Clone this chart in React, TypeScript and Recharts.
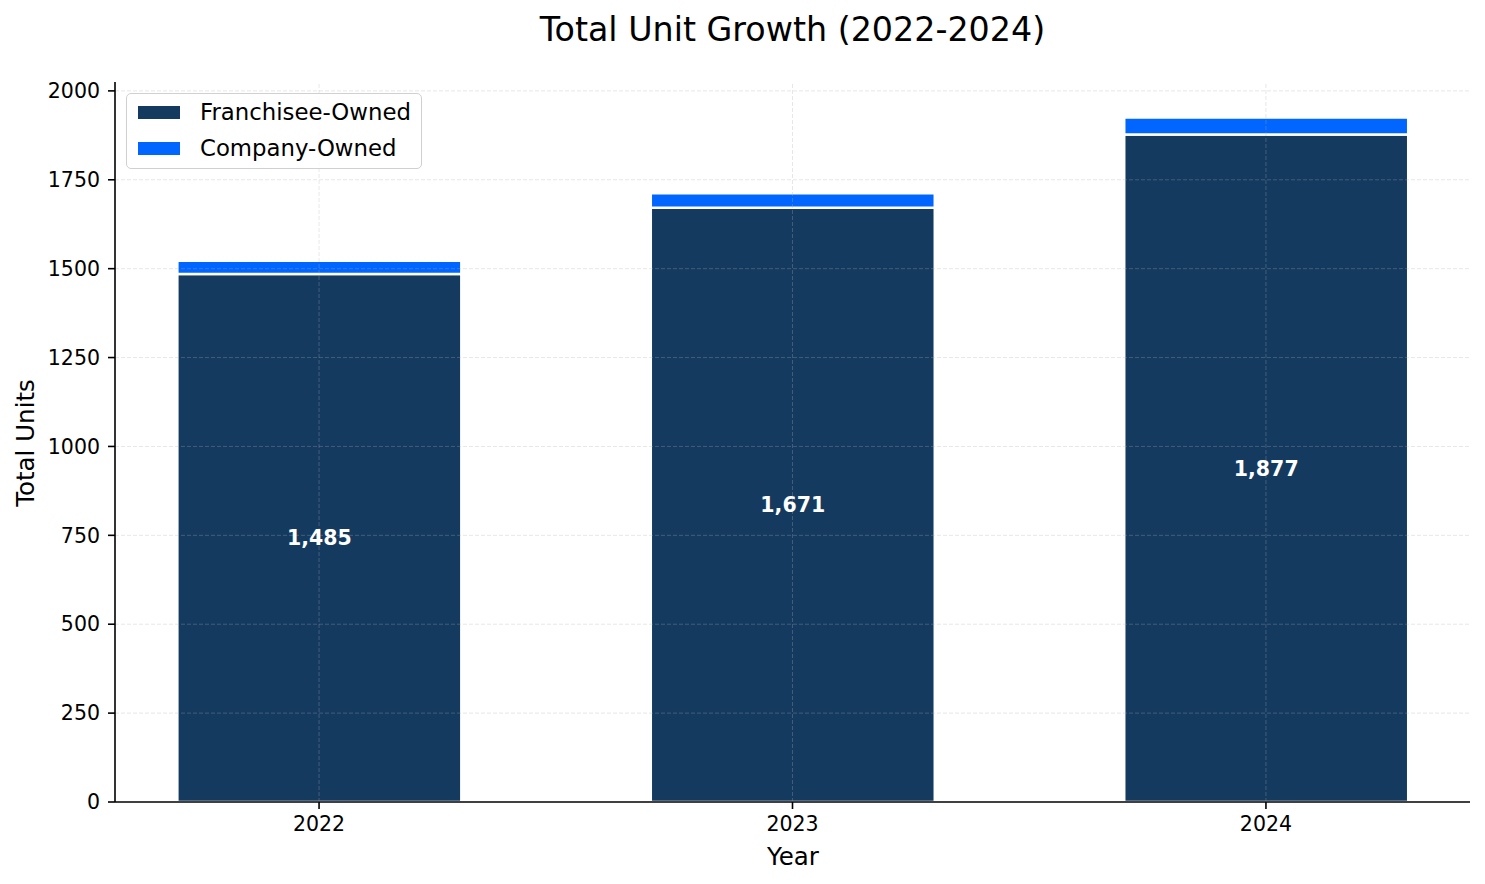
import { BarChart, Bar, XAxis, YAxis, ReferenceLine, LabelList } from "recharts";

const YEARS = ["2022", "2023", "2024"];
const FRANCHISEE = [1485, 1671, 1877];
const COMPANY = [37, 41, 48];
const Y_TICKS = [0, 250, 500, 750, 1000, 1250, 1500, 1750, 2000];
const X_TICKS = [0, 1, 2];

const NAVY = "#143A60";
const BLUE = "#0066FF";
const FONT = "'DejaVu Sans', sans-serif";

const data = YEARS.map((year, i) => ({
  idx: i,
  year,
  franchisee: FRANCHISEE[i],
  company: COMPANY[i],
}));

const LEGEND = [
  { name: "Franchisee-Owned", color: NAVY },
  { name: "Company-Owned", color: BLUE },
];

// grid drawn above the bars, like the matplotlib original
const gridStyle = {
  stroke: "#b0b0b0",
  strokeOpacity: 0.3,
  strokeDasharray: "4 2",
  strokeWidth: 1,
};

export default function App() {
  return (
    <div
      style={{
        position: "absolute",
        left: 0,
        top: 0,
        width: 1485,
        height: 884,
        background: "#fff",
        fontFamily: FONT,
      }}
    >
      <BarChart
        width={1485}
        height={884}
        data={data}
        margin={{ top: 82, right: 15, bottom: 22, left: 25 }}
      >
        <Bar
          dataKey="franchisee"
          stackId="a"
          fill={NAVY}
          stroke="#fff"
          strokeWidth={2.5}
          barSize={284}
          isAnimationActive={false}
        >
          <LabelList
            dataKey="franchisee"
            position="center"
            fill="#fff"
            fontWeight="bold"
            fontSize={20.5}
            fontFamily={FONT}
            formatter={(v: number) => v.toLocaleString("en-US")}
          />
        </Bar>
        <Bar
          dataKey="company"
          stackId="a"
          fill={BLUE}
          stroke="#fff"
          strokeWidth={2.5}
          barSize={284}
          isAnimationActive={false}
        />
        {Y_TICKS.filter((t) => t > 0).map((t) => (
          <ReferenceLine key={`h-${t}`} y={t} {...gridStyle} />
        ))}
        {X_TICKS.map((t) => (
          <ReferenceLine key={`v-${t}`} x={t} {...gridStyle} />
        ))}
        <XAxis
          dataKey="idx"
          type="number"
          domain={[-0.431, 2.431]}
          ticks={X_TICKS}
          tickFormatter={(v: number) => YEARS[v]}
          height={60}
          tickSize={7}
          tickMargin={7}
          axisLine={{ stroke: "#000", strokeWidth: 1.6 }}
          tickLine={{ stroke: "#000", strokeWidth: 1.6 }}
          tick={{ fill: "#000", fontSize: 20.5, fontFamily: FONT }}
        />
        <YAxis
          type="number"
          domain={[0, 2025]}
          ticks={Y_TICKS}
          width={90}
          tickSize={7}
          tickMargin={8}
          axisLine={{ stroke: "#000", strokeWidth: 1.6 }}
          tickLine={{ stroke: "#000", strokeWidth: 1.6 }}
          tick={{ fill: "#000", fontSize: 20.5, fontFamily: FONT }}
        />
      </BarChart>

      <div
        style={{
          position: "absolute",
          left: 0,
          width: 1585,
          top: 10,
          textAlign: "center",
          fontSize: 33.3,
          lineHeight: "40px",
          color: "#000",
        }}
      >
        Total Unit Growth (2022-2024)
      </div>

      <div
        style={{
          position: "absolute",
          left: 593,
          width: 400,
          top: 841,
          textAlign: "center",
          fontSize: 24.5,
          lineHeight: "32px",
          color: "#000",
        }}
      >
        Year
      </div>

      <div
        style={{
          position: "absolute",
          left: 26,
          top: 443,
          transform: "translate(-50%, -50%) rotate(-90deg)",
          fontSize: 24.5,
          lineHeight: "32px",
          whiteSpace: "nowrap",
          color: "#000",
        }}
      >
        Total Units
      </div>

      <div
        style={{
          position: "absolute",
          left: 126,
          top: 93,
          width: 296,
          height: 76,
          border: "1.5px solid #d0d0d0",
          borderRadius: 5,
          background: "rgba(255,255,255,0.8)",
          boxSizing: "border-box",
        }}
      >
        {LEGEND.map((item, i) => (
          <div
            key={item.name}
            style={{
              position: "absolute",
              left: 11,
              top: 4 + i * 36,
              height: 28,
              display: "flex",
              alignItems: "center",
              whiteSpace: "nowrap",
            }}
          >
            <span
              style={{
                display: "inline-block",
                width: 42,
                height: 13,
                background: item.color,
                marginRight: 20,
              }}
            />
            <span style={{ fontSize: 22.8, color: "#000" }}>{item.name}</span>
          </div>
        ))}
      </div>
    </div>
  );
}
